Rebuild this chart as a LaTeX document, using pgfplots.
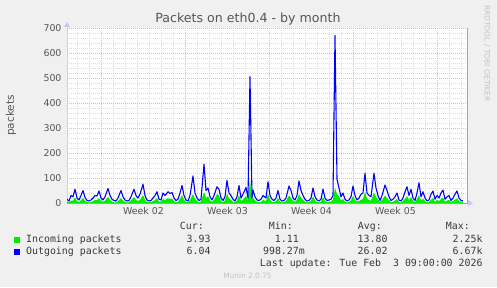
\documentclass[border=0pt]{standalone}
\usepackage{pgfplots}
\pgfplotsset{compat=1.18}
\usepackage{pgfplotstable}
\usepackage{fontspec}
\setmainfont{DejaVu Sans}
\newfontfamily\monofont{DejaVu Sans Mono}
\usetikzlibrary{arrows.meta}
\definecolor{bgc}{HTML}{F0F0F0}
\definecolor{txt}{HTML}{555555}
\definecolor{legtxt}{HTML}{3A3A3A}
\definecolor{majg}{HTML}{E8B4B4}
\definecolor{ming}{HTML}{DCDCDC}
\definecolor{inc}{HTML}{00EE00}
\definecolor{outc}{HTML}{0000FF}
\definecolor{axy}{HTML}{CCCCF6}
\definecolor{arr}{HTML}{C4CCF4}
\definecolor{faint}{HTML}{C4C4C4}

\pgfplotstableread{
x y
0 15
2 8
4 30
6 25
8 55
10 20
12 12
14 30
16 50
18 22
20 10
22 8
24 12
26 20
28 30
30 28
32 48
34 20
36 12
38 25
41 58
43 30
45 15
47 10
49 8
51 20
54 50
56 25
58 12
60 8
62 10
64 25
67 55
69 30
71 20
73 35
76 75
78 30
80 12
82 8
84 10
86 20
88 30
90 45
92 15
94 12
96 40
98 30
101 45
103 38
105 42
107 20
109 10
111 15
113 40
115 70
117 30
119 12
121 8
123 30
126 108
128 40
130 20
132 10
134 15
137 155
139 50
141 60
143 25
145 12
147 30
150 65
152 55
154 20
156 10
158 25
160 90
162 40
164 30
166 15
168 8
170 25
172 70
174 20
176 35
179 62
181 20
183 505
185 20
186 52
188 25
190 12
192 10
194 15
196 30
199 20
201 85
203 30
205 15
207 10
209 20
211 50
213 15
215 8
217 10
219 20
222 68
224 50
226 20
228 12
230 30
232 88
234 50
236 30
238 15
240 8
242 10
244 20
246 60
248 25
250 12
252 8
254 15
256 56
258 20
260 10
262 12
264 15
266 30
268 670
270 95
272 60
274 25
276 40
278 15
280 8
282 12
284 25
286 68
288 30
290 12
292 20
294 35
296 40
298 119
300 40
302 30
304 25
307 119
309 60
311 30
313 10
315 30
318 72
320 50
322 25
324 10
326 15
328 25
330 40
332 12
334 8
336 20
338 45
340 65
342 30
344 55
346 20
348 10
350 40
352 81
354 25
356 45
358 20
360 8
362 12
364 35
366 48
368 15
370 30
372 20
374 40
376 52
378 15
380 25
382 30
384 10
386 20
388 35
390 48
392 20
394 10
396 8
}\outgoing

\pgfplotstableread{
x y
0 6
2 3
4 10
6 10
8 22
10 8
12 4
14 11
16 20
18 9
20 4
22 2
24 4
26 8
28 12
30 12
32 19
34 8
36 5
38 9
41 25
43 12
45 5
47 3
49 2
51 8
54 20
56 10
58 5
60 2
62 4
64 10
67 24
69 12
71 8
73 13
76 32
78 12
80 5
82 3
84 4
86 8
88 12
90 19
92 6
94 5
96 16
98 12
101 19
103 16
105 18
107 8
109 4
111 5
113 16
115 32
117 12
119 5
121 3
123 12
126 36
128 16
130 8
132 4
134 6
137 44
139 20
141 28
143 10
145 5
147 12
150 36
152 30
154 8
156 4
158 10
160 38
162 18
164 12
166 5
168 3
170 10
172 32
174 8
176 13
179 28
181 10
183 95
185 14
186 22
188 10
190 5
192 4
194 5
196 12
199 8
201 36
203 12
205 5
207 4
209 8
211 20
213 5
215 2
217 4
219 8
222 30
224 20
226 8
228 5
230 12
232 36
234 20
236 12
238 5
240 2
242 4
244 8
246 26
248 10
250 5
252 2
254 5
256 24
258 8
260 4
262 5
264 6
266 14
268 60
270 36
272 26
274 10
276 16
278 5
280 2
282 5
284 10
286 28
288 12
290 5
292 8
294 13
296 16
298 44
300 16
302 12
304 10
307 42
309 24
311 12
313 4
315 12
318 30
320 20
322 10
324 4
326 5
328 10
330 16
332 5
334 2
336 8
338 17
340 28
342 12
344 24
346 8
348 4
350 16
352 32
354 10
356 17
358 8
360 2
362 5
364 13
366 20
368 5
370 12
372 8
374 16
376 22
378 5
380 10
382 12
384 4
386 8
388 13
390 19
392 8
394 4
396 3
}\incoming

\begin{document}
\begin{tikzpicture}[x=1pt,y=1pt]
\path[use as bounding box] (0,0) rectangle (497,287);
\fill[bgc] (0,0) rectangle (497,287);
\begin{axis}[
  at={(67pt,84pt)}, anchor=south west,
  scale only axis, width=400pt, height=175pt,
  xmin=0, xmax=400, ymin=0, ymax=700,
  axis background/.style={fill=white},
  axis x line=bottom, axis y line=left,
  x axis line style={draw=gray!70, -{Triangle[width=6pt,length=5pt,color=arr]}, shorten >=-6pt},
  y axis line style={draw=axy, line width=0.8pt, -{Triangle[width=6pt,length=5pt,color=arr]}, shorten >=-6pt},
  xtick={76.5,160.5,244.5,328.5},
  xticklabels={Week 02,Week 03,Week 04,Week 05},
  minor xtick={10.5,22.5,46.5,58.5,70.5,82.5,94.5,106.5,130.5,142.5,154.5,166.5,178.5,190.5,214.5,226.5,238.5,250.5,262.5,274.5,298.5,310.5,322.5,334.5,346.5,358.5,382.5,394.5},
  extra x ticks={34.5,118.5,202.5,286.5,370.5},
  extra x tick labels={},
  extra x tick style={grid=major},
  ytick={0,100,...,700},
  minor ytick={20,40,60,80,120,140,160,180,220,240,260,280,320,340,360,380,420,440,460,480,520,540,560,580,620,640,660,680},
  xmajorgrids=false, xminorgrids=true, ymajorgrids=true, yminorgrids=true,
  major grid style={majg, line width=0.6pt, dash pattern=on 1pt off 1pt},
  minor grid style={ming, line width=0.6pt, dash pattern=on 1pt off 1pt},
  major tick length=0pt, minor tick length=0pt,
  tick label style={font=\fontsize{9.4}{10}\selectfont, text=txt},
  /pgf/number format/assume math mode=true,
  yticklabel style={xshift=-2pt},
  xticklabel style={yshift=-1pt},
  clip=true,
]
\addplot[fill=inc, draw=none] table[x=x,y=y] {\incoming} \closedcycle;
\addplot[color=outc, line width=1.1pt, line join=round] table[x=x,y=y] {\outgoing};
\end{axis}
\draw[gray!70, line width=0.8pt] (467,84) -- (467,259);
\node[text=txt, font=\fontsize{12.6}{13}\selectfont] at (248,267.7) {Packets on eth0.4 - by month};
\node[text=txt, font=\fontsize{10.5}{11}\selectfont, rotate=90] at (11,171.5) {packets};
\node[text=faint, font=\fontsize{7.5}{8}\selectfont, rotate=-90] at (487,233.5) {RRDTOOL / TOBI OETIKER};
\begin{scope}[every node/.style={font=\monofont\fontsize{9.9}{10}\selectfont, text=legtxt, inner sep=0pt}]
\node[anchor=mid east] at (204,60) {Cur:};
\node[anchor=mid east] at (293,60) {Min:};
\node[anchor=mid east] at (382,60) {Avg:};
\node[anchor=mid east] at (470,60) {Max:};
\fill[inc] (14,44) rectangle (20,50);
\node[anchor=mid west] at (26,47.7) {Incoming packets};
\node[anchor=mid east] at (210.7,47.7) {3.93};
\node[anchor=mid east] at (299,47.7) {1.11};
\node[anchor=mid east] at (387.7,47.7) {13.80};
\node[anchor=mid east] at (482.7,47.7) {2.25k};
\fill[outc] (14,32) rectangle (20,38);
\node[anchor=mid west] at (26,35) {Outgoing packets};
\node[anchor=mid east] at (210.7,35) {6.04};
\node[anchor=mid east] at (305,35) {998.27m};
\node[anchor=mid east] at (387.7,35) {26.02};
\node[anchor=mid east] at (482.7,35) {6.67k};
\node[anchor=mid east] at (482.7,23.3) {Last update: Tue Feb\ \ 3 09:00:00 2026};
\end{scope}
\node[text=faint, font=\fontsize{7.4}{8}\selectfont] at (247.5,11) {Munin 2.0.75};
\end{tikzpicture}
\end{document}
